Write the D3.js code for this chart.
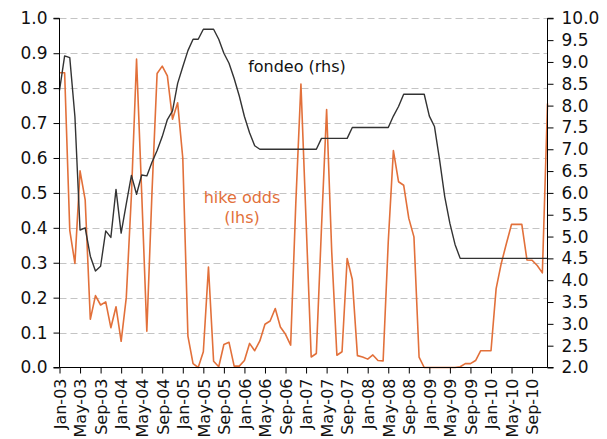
<!DOCTYPE html>
<html>
<head>
<meta charset="utf-8">
<script src="https://cdn.jsdelivr.net/npm/d3@7/dist/d3.min.js"></script>
<style>
  html, body { margin: 0; padding: 0; background: #fff; }
  svg { display: block; }
  text { font-family: "DejaVu Sans", Verdana, sans-serif; }
</style>
</head>
<body>
<svg id="chart" width="607" height="439"></svg>
<script>
// Monthly categories Jan-03 .. Dec-10 (96 months)
const startYear = 2003;
const monthNames = ["Jan","Feb","Mar","Apr","May","Jun","Jul","Aug","Sep","Oct","Nov","Dec"];
const categories = d3.range(96).map(i => monthNames[i % 12] + "-" + String((startYear + Math.floor(i / 12)) % 100).padStart(2, "0"));

// fondeo (rhs, %)
const fondeo = [
  8.35, 9.14, 9.10, 7.75, 5.15, 5.20, 4.55, 4.21, 4.32, 5.13, 4.98, 6.08,
  5.08, 5.75, 6.40, 5.97, 6.41, 6.39, 6.70, 6.97, 7.29, 7.68, 7.88, 8.51,
  8.89, 9.26, 9.52, 9.52, 9.75, 9.75, 9.75, 9.52, 9.20, 8.97, 8.62, 8.22,
  7.75, 7.38, 7.08, 7.00, 7.00, 7.00, 7.00, 7.00, 7.00, 7.00, 7.00, 7.00,
  7.00, 7.00, 7.00, 7.25, 7.25, 7.25, 7.25, 7.25, 7.25, 7.50, 7.50, 7.50,
  7.50, 7.50, 7.50, 7.50, 7.50, 7.76, 7.98, 8.26, 8.26, 8.26, 8.26, 8.26,
  7.76, 7.52, 6.75, 5.91, 5.30, 4.82, 4.50, 4.50, 4.50, 4.50, 4.50, 4.50,
  4.50, 4.50, 4.50, 4.50, 4.50, 4.50, 4.50, 4.50, 4.50, 4.50, 4.50, 4.50
];

// hike odds (lhs, probability)
const hikeOdds = [
  0.844, 0.844, 0.393, 0.298, 0.563, 0.480, 0.138, 0.206, 0.179, 0.188, 0.114, 0.174,
  0.075, 0.200, 0.494, 0.883, 0.500, 0.104, 0.500, 0.842, 0.863, 0.835, 0.711, 0.758,
  0.600, 0.090, 0.011, 0.000, 0.045, 0.288, 0.018, 0.002, 0.066, 0.072, 0.004, 0.004,
  0.020, 0.069, 0.048, 0.076, 0.124, 0.133, 0.169, 0.116, 0.095, 0.064, 0.470, 0.812,
  0.420, 0.030, 0.040, 0.400, 0.739, 0.330, 0.035, 0.045, 0.312, 0.252, 0.034, 0.030,
  0.024, 0.036, 0.020, 0.019, 0.360, 0.621, 0.532, 0.522, 0.427, 0.374, 0.030, 0.000,
  0.000, 0.000, 0.000, 0.000, 0.000, 0.000, 0.002, 0.011, 0.011, 0.020, 0.048, 0.048,
  0.048, 0.226, 0.298, 0.355, 0.410, 0.410, 0.410, 0.308, 0.307, 0.292, 0.271, 0.756
];

const leftTicks = [0.0, 0.1, 0.2, 0.3, 0.4, 0.5, 0.6, 0.7, 0.8, 0.9, 1.0];
const rightTicks = [2.0, 2.5, 3.0, 3.5, 4.0, 4.5, 5.0, 5.5, 6.0, 6.5, 7.0, 7.5, 8.0, 8.5, 9.0, 9.5, 10.0];
const xTickLabels = [
  "Jan-03","May-03","Sep-03","Jan-04","May-04","Sep-04","Jan-05","May-05","Sep-05",
  "Jan-06","May-06","Sep-06","Jan-07","May-07","Sep-07","Jan-08","May-08","Sep-08",
  "Jan-09","May-09","Sep-09","Jan-10","May-10","Sep-10"
];
const seriesLabels = { fondeo: "fondeo (rhs)", hike: ["hike odds", "(lhs)"] };

const orange = "#E2703A";
const dark = "#333333";

const m = { left: 59.5, right: 547.5, top: 18.3, bottom: 367.5 };
const svg = d3.select("#chart");

const x = d3.scaleLinear().domain([0, categories.length - 1]).range([m.left, m.right]);
const yL = d3.scaleLinear().domain([0, 1]).range([m.bottom, m.top]);
const yR = d3.scaleLinear().domain([2, 10]).range([m.bottom, m.top]);

// gridlines
svg.append("g").selectAll("line")
  .data(leftTicks.filter(t => t > 0))
  .join("line")
  .attr("x1", m.left).attr("x2", m.right)
  .attr("y1", d => Math.round(yL(d)) + 0.5).attr("y2", d => Math.round(yL(d)) + 0.5)
  .attr("stroke", "#c4c4c4").attr("stroke-width", 1).attr("stroke-dasharray", "7,4");

// lines
const lineF = d3.line().x((d, i) => x(i)).y(d => yR(d));
const lineH = d3.line().x((d, i) => x(i)).y(d => yL(d));

svg.append("path").datum(hikeOdds).attr("d", lineH)
  .attr("fill", "none").attr("stroke", orange).attr("stroke-width", 1.6).attr("stroke-linejoin", "round");
svg.append("path").datum(fondeo).attr("d", lineF)
  .attr("fill", "none").attr("stroke", dark).attr("stroke-width", 1.4).attr("stroke-linejoin", "round");

// left axis
const gL = svg.append("g").attr("transform", `translate(${m.left},0)`)
  .call(d3.axisLeft(yL).tickValues(leftTicks).tickFormat(d3.format(".1f")).tickSize(6).tickPadding(6));
// right axis
const gR = svg.append("g").attr("transform", `translate(${m.right},0)`)
  .call(d3.axisRight(yR).tickValues(rightTicks).tickFormat(d3.format(".1f")).tickSize(6).tickPadding(8));
// bottom axis
const xTickIdx = xTickLabels.map(l => categories.indexOf(l));
const gB = svg.append("g").attr("transform", `translate(0,${m.bottom})`)
  .call(d3.axisBottom(x).tickValues(xTickIdx).tickFormat(i => categories[i]).tickSize(6).tickPadding(6));

[gL, gR, gB].forEach(g => {
  g.select(".domain").attr("stroke", "#000").attr("stroke-width", 1);
  g.selectAll(".tick line").attr("stroke", "#000");
  g.selectAll("text").attr("fill", "#111").style("font-size", "17px")
    .style("font-family", "'DejaVu Sans', Verdana, sans-serif");
});
gB.selectAll(".domain").attr("d", `M${m.left},0H${m.right}`);
gL.select(".domain").attr("d", `M-6,${m.bottom}H0V${m.top}H-6`);
gR.select(".domain").attr("d", `M6,${m.bottom}H0V${m.top}H6`);

gB.selectAll(".tick text")
  .style("font-size", "16px")
  .attr("transform", "rotate(-90)")
  .attr("text-anchor", "end")
  .attr("x", -11).attr("y", 0).attr("dy", "0.36em");

// series labels
svg.append("text").attr("x", 297).attr("y", 72).attr("text-anchor", "middle")
  .attr("fill", "#111").style("font-size", "16px").text(seriesLabels.fondeo);
svg.append("text").attr("x", 242).attr("y", 202.5).attr("text-anchor", "middle")
  .attr("fill", orange).style("font-size", "16px").text(seriesLabels.hike[0]);
svg.append("text").attr("x", 242).attr("y", 223).attr("text-anchor", "middle")
  .attr("fill", orange).style("font-size", "16px").text(seriesLabels.hike[1]);
</script>
</body>
</html>
